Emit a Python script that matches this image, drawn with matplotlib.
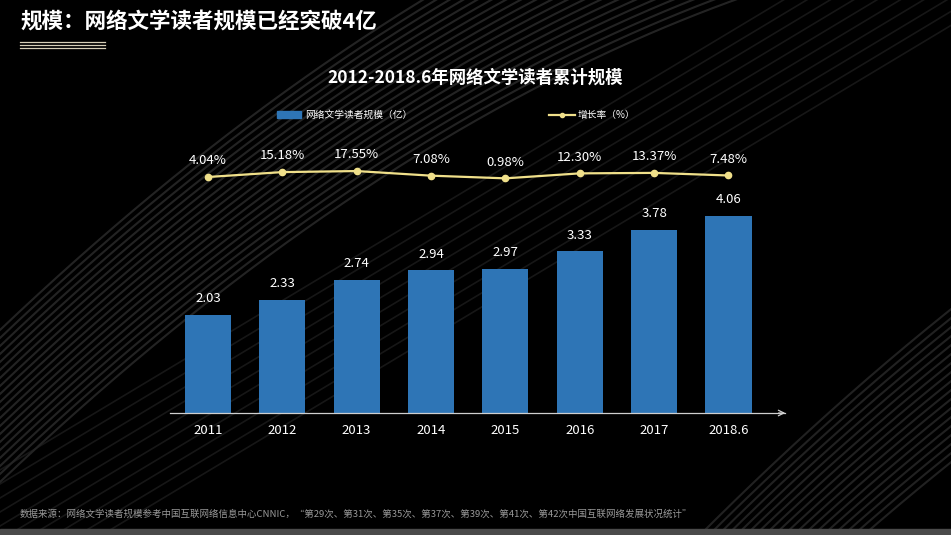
import numpy as np
import matplotlib.pyplot as plt

plt.rcParams['font.family'] = ['Noto Sans CJK SC', 'DejaVu Sans']

# Data
years = ['2011', '2012', '2013', '2014', '2015', '2016', '2017', '2018.6']
readers = [2.03, 2.33, 2.74, 2.94, 2.97, 3.33, 3.78, 4.06]           # 亿
growth = [4.04, 15.18, 17.55, 7.08, 0.98, 12.30, 13.37, 7.48]       # %

bar_color = '#2E75B6'
line_color = '#F0E08A'
text_color = 'white'

fig = plt.figure(figsize=(9.51, 5.35), dpi=100)
fig.patch.set_facecolor('black')

# background texture: sweeping gray strands
bg = fig.add_axes([0, 0, 1, 1])
bg.set_xlim(0, 951)
bg.set_ylim(535, 0)
bg.axis('off')
xs = np.linspace(0, 951, 300)
for k in range(20):
    ys = 330 - 0.95 * xs + 0.0004 * xs ** 2 + k * 8
    bg.plot(xs, ys, color='#3c3c3c', lw=1.5, alpha=0.6, zorder=1)
for k in range(18):
    ys = 535 - 1.0 * (xs - 700) + 0.0004 * (xs - 700) ** 2 + k * 9
    bg.plot(xs, ys, color='#383838', lw=1.5, alpha=0.6, zorder=1)
for k in range(10):
    ys = 470 - 0.6 * xs + k * 14
    bg.plot(xs, ys, color='#262626', lw=1.2, alpha=0.6, zorder=1)
bg.axhspan(529, 535, color='#4a4a4a', zorder=2)

# page title
bg.text(20, 22, '规模：网络文学读者规模已经突破4亿', color='white', fontsize=15.5,
        fontweight='bold', va='center', ha='left', zorder=5)
for yy in (42, 45, 48):
    bg.plot([20, 105], [yy, yy], color='#d8cfb8', lw=0.9, zorder=5)

# chart title
bg.text(475, 78, '2012-2018.6年网络文学读者累计规模', color='white', fontsize=12.5,
        fontweight='bold', va='center', ha='center', zorder=5)

# source note
bg.text(20, 514, '数据来源：网络文学读者规模参考中国互联网络信息中心CNNIC，“第29次、第31次、第35次、第37次、'
        '第39次、第41次、第42次中国互联网络发展状况统计”', color='#9a9a9a', fontsize=6.8,
        style='italic', va='center', ha='left', zorder=5)

# main axes: bars
W, H = 951, 535
x0, x1 = 170, 785
ytop, ybase = 140, 413
ax = fig.add_axes([x0 / W, 1 - ybase / H, (x1 - x0) / W, (ybase - ytop) / H])
ax.patch.set_alpha(0)
x = np.arange(len(years))
ax.bar(x, readers, width=0.62, color=bar_color, zorder=2)
ax.set_xlim(-0.51, 7.76)
ax.set_ylim(0, (ybase - ytop) / 48.5)
for xi, v in zip(x, readers):
    ax.text(xi, v + 0.2, f'{v:.2f}', color=text_color, fontsize=9.5,
            ha='center', va='bottom')
ax.set_xticks(x)
ax.set_xticklabels(years, color=text_color, fontsize=9.5)
ax.tick_params(axis='x', length=0, pad=8)
ax.set_yticks([])
for s in ['top', 'right', 'left']:
    ax.spines[s].set_visible(False)
ax.spines['bottom'].set_color('#cfcfcf')
ax.spines['bottom'].set_linewidth(0.9)
ax.annotate('', xy=(1.005, 0), xycoords='axes fraction', xytext=(0.985, 0),
            arrowprops=dict(arrowstyle='->', color='#cfcfcf', lw=0.9))

# growth line on twin axes
ax2 = ax.twinx()
ax2.patch.set_alpha(0)
scale = 0.44
ylo = 4.04 - (ybase - 177) / scale
ax2.set_ylim(ylo, ylo + (ybase - ytop) / scale)
ax2.plot(x, growth, color=line_color, lw=1.6, marker='o', markersize=4.5, zorder=3)
for xi, g in zip(x, growth):
    ax2.text(xi, g + 22, f'{g:.2f}%', color=text_color, fontsize=9.5,
             ha='center', va='bottom')
ax2.set_yticks([])
for s in ax2.spines.values():
    s.set_visible(False)

# legend
bg.add_patch(plt.Rectangle((277, 111), 24, 7, color=bar_color, zorder=5))
bg.text(305, 115, '网络文学读者规模（亿）', color='white', fontsize=7, va='center', zorder=5)
bg.plot([549, 575], [115, 115], color=line_color, lw=1.6, zorder=5)
bg.plot([562], [115], marker='o', color=line_color, markersize=3, zorder=5)
bg.text(578, 115, '增长率（%）', color='white', fontsize=7, va='center', zorder=5)

fig.savefig('out.png', dpi=100, facecolor=fig.get_facecolor())
